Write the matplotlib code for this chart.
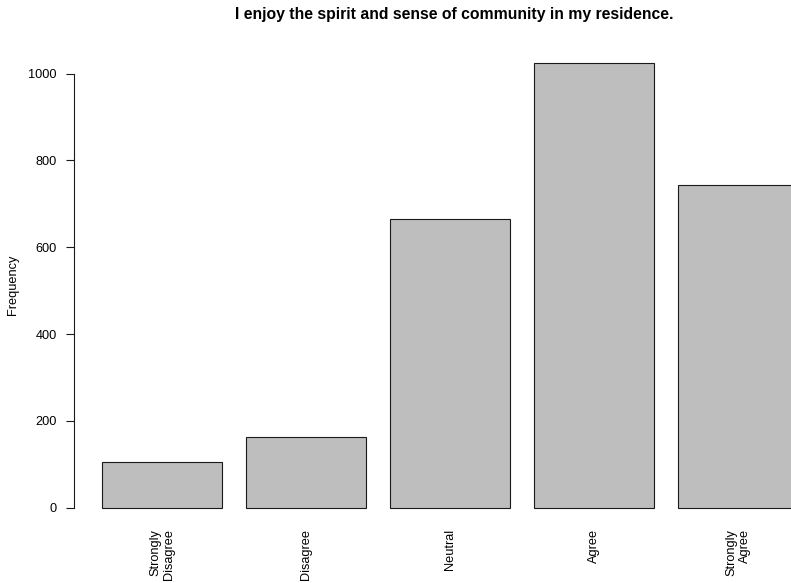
import matplotlib
matplotlib.use("Agg")
import matplotlib.pyplot as plt

categories = ["Strongly\nDisagree", "Disagree", "Neutral", "Agree", "Strongly\nAgree"]
counts = [105, 162, 665, 1025, 744]
yticks = [0, 200, 400, 600, 800, 1000]

W, H, DPI = 791, 583, 100
plt.rcParams["font.family"] = ["Liberation Sans", "DejaVu Sans"]

fig = plt.figure(figsize=(W / DPI, H / DPI), dpi=DPI)

# R-style plot region (right side runs past the figure edge, as in the original)
left, right, top, bottom = 74, 826, 45, 525.5
ax = fig.add_axes([left / W, 1 - bottom / H, (right - left) / W, (bottom - top) / H])

# barplot geometry: width 1, space 0.2
centers = [0.7 + 1.2 * i for i in range(len(counts))]
ax.bar(centers, counts, width=1.0, color="#BEBEBE", edgecolor="#1a1a1a", linewidth=0.8)

x0, x1 = 0.2, 1.2 * len(counts)
pad = 0.04 * (x1 - x0)
ax.set_xlim(x0 - pad, x1 + pad)
ymax = max(counts)
ax.set_ylim(-0.04 * ymax, 1.04 * ymax)

for s in ["top", "right", "bottom"]:
    ax.spines[s].set_visible(False)
ax.spines["left"].set_bounds(0, 1000)
ax.spines["left"].set_linewidth(0.8)
ax.spines["left"].set_color("#1a1a1a")

ax.set_yticks(yticks)
ax.set_yticklabels([str(v) for v in yticks])
ax.tick_params(axis="y", direction="out", length=5.8, width=0.8, color="#1a1a1a",
               labelsize=9.2, pad=6.5)
ax.set_xticks(centers)
ax.set_xticklabels(categories, rotation=90, ha="center", va="top",
                   multialignment="right", fontsize=9.2, linespacing=1.15)
ax.tick_params(axis="x", length=0, pad=2.5)

fig.text(13 / W, 1 - (top + bottom) / 2 / H, "Frequency", rotation=90,
         ha="center", va="center", fontsize=9.2)
fig.text(454 / W, 1 - 15 / H, "I enjoy the spirit and sense of community in my residence.",
         ha="center", va="center", fontsize=11.3, fontweight="bold")

fig.savefig("out.png", dpi=DPI)
